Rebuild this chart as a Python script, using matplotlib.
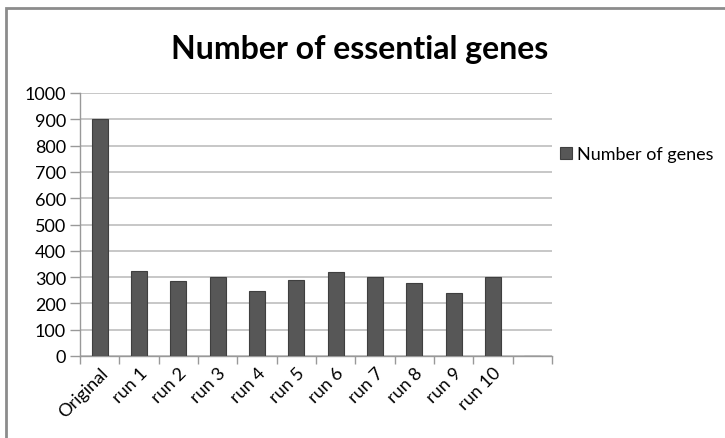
import matplotlib.pyplot as plt
from matplotlib.patches import Rectangle

# 데이터
categories = ["Original", "run 1", "run 2", "run 3", "run 4", "run 5",
              "run 6", "run 7", "run 8", "run 9", "run 10", ""]
genes = [900, 322, 286, 300, 248, 288, 318, 300, 278, 241, 300, None]
series_name = "Number of genes"

plt.rcParams['font.family'] = ['Lato', 'DejaVu Sans']

fig = plt.figure(figsize=(7.25, 4.39), dpi=100)
ax = fig.add_axes([80 / 725, 1 - 357 / 439, 472 / 725, 263 / 439])

x = list(range(len(categories)))
vals = [v if v is not None else 0 for v in genes]
bars = ax.bar(x, vals, width=0.4, color="#575757", edgecolor="#3f3f3f",
              linewidth=0.8, label=series_name, zorder=3)

ax.set_xlim(-0.5, len(categories) - 0.5)
ax.set_ylim(0, 1000)
ax.set_yticks(range(0, 1001, 100))
ax.yaxis.grid(True, color="#bdbdbd", linewidth=1.2, zorder=0)

# x 눈금은 카테고리 사이에
ax.set_xticks([i - 0.5 for i in range(len(categories) + 1)], minor=False)
ax.set_xticklabels([])
ax.set_xticks(x, minor=True)
ax.set_xticklabels(categories, minor=True, rotation=45, ha="right",
                   rotation_mode="anchor", fontsize=13)
ax.tick_params(axis="x", which="minor", length=0, pad=6)
ax.tick_params(axis="x", which="major", length=6, color="#999999", width=1)
ax.tick_params(axis="y", length=7, color="#999999", width=1, labelsize=13, pad=3)

for s in ["top", "right"]:
    ax.spines[s].set_visible(False)
ax.spines["left"].set_color("#999999")
ax.spines["bottom"].set_color("#999999")
ax.spines["left"].set_linewidth(1)
ax.spines["bottom"].set_linewidth(1)

fig.text(360 / 725, 1 - 50 / 439, "Number of essential genes", ha="center",
         va="center", fontsize=23, fontweight="bold")

ax.legend(loc="center left", bbox_to_anchor=(560 / 725, 1 - 155 / 439),
          bbox_transform=fig.transFigure, frameon=False, fontsize=13,
          handlelength=0.65, handleheight=0.65, handletextpad=0.3,
          borderpad=0, borderaxespad=0)

# 차트 테두리 (오른쪽/아래는 잘려 있음)
fig.patches.append(Rectangle((6 / 725, -0.1), 1.2, 1 - 9 / 439 + 0.1,
                             transform=fig.transFigure, fill=False,
                             edgecolor="#8c8c8c", linewidth=2))

fig.savefig("out.png", dpi=100)
